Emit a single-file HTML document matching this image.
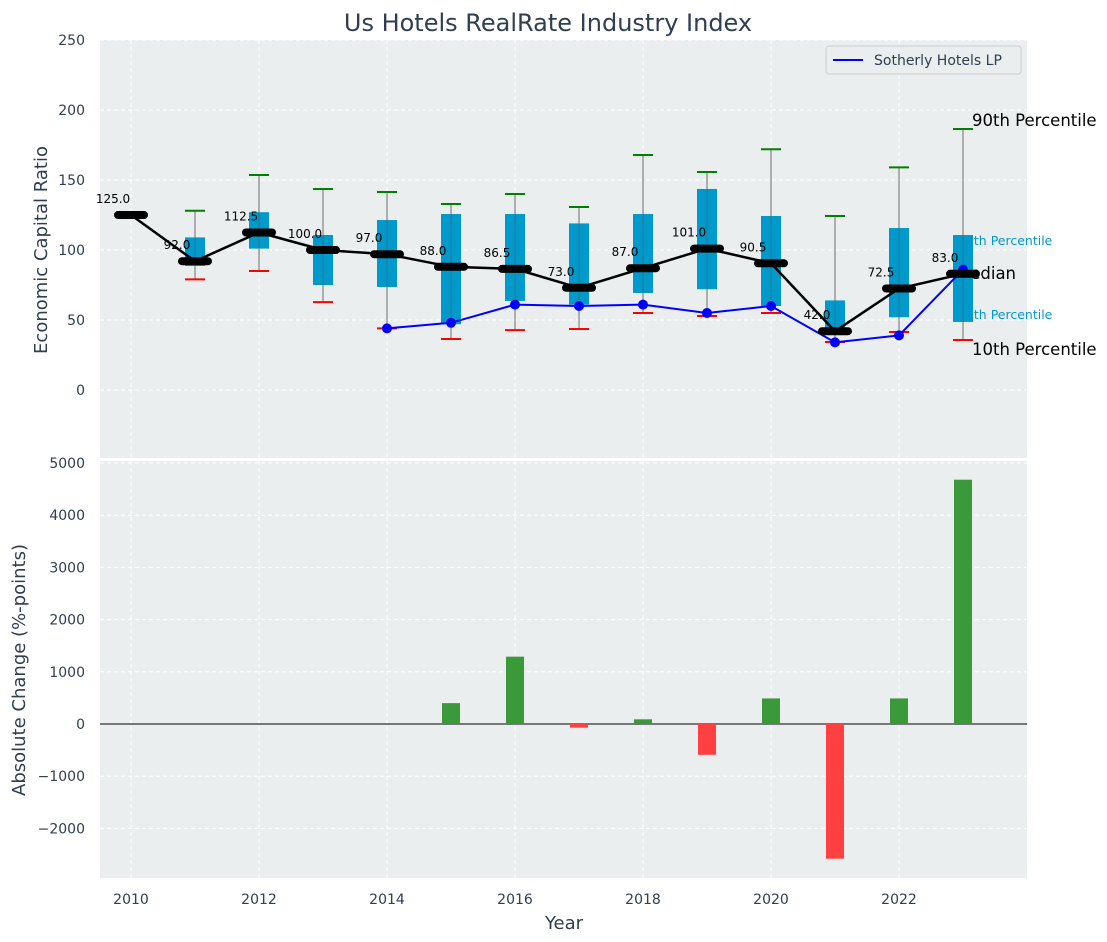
<!DOCTYPE html>
<html><head><meta charset="utf-8"><style>
body{margin:0;background:#fff;}
svg{display:block;font-family:"DejaVu Sans","Liberation Sans",sans-serif;}
</style></head><body>
<svg id="c" width="1107" height="942" xmlns="http://www.w3.org/2000/svg"></svg>
<script>
const years=[2010,2011,2012,2013,2014,2015,2016,2017,2018,2019,2020,2021,2022,2023];
const medians=[125,92,112.5,100,97,88,86.5,73,87,101,90.5,42,72.5,83];
const q3=[null,109,127,110.7,121.4,125.7,125.7,119,125.7,143.6,124.3,64,115.7,110.7];
const q1=[null,88.6,101,75,73.6,47,63.6,61,69.3,72,60,40.7,52,48.6];
const p90=[null,128,153.6,143.6,141.4,132.9,140,130.7,167.9,155.7,172,124.3,159,186.4];
const p10=[null,79,85,62.8,44,36.4,42.8,43.6,55,52.9,55,34.3,41.4,35.7];
const blueYears=[2014,2015,2016,2017,2018,2019,2020,2021,2022,2023];
const blueVals=[44,48,61,60,61,55,60,34,39,86];
const changes=[null,null,null,null,null,400,1290,-70,90,-590,490,-2580,490,4680];
const topTicks=[0,50,100,150,200,250];
const botTicks=[-2000,-1000,0,1000,2000,3000,4000,5000];
const xTicks=[2010,2012,2014,2016,2018,2020,2022];

const NS="http://www.w3.org/2000/svg";
const svg=document.getElementById('c');
function el(tag,attrs,parent){const e=document.createElementNS(NS,tag);for(const k in attrs)e.setAttribute(k,attrs[k]);(parent||svg).appendChild(e);return e;}
const X0=100,X1=1027;
const x=v=>131+(v-2010)*64;
const yT=v=>390-v*1.4;
const yB=v=>724-v*0.0522;
const fmt=v=>(v<0?'\u2212'+Math.abs(v):''+v);

let p=el('rect',{x:X0,y:40,width:X1-X0,height:418,fill:'#eaeeef'});

p=el('rect',{x:X0,y:461,width:X1-X0,height:417,fill:'#eaeeef'});


topTicks.forEach(t=>{
  el('line',{x1:X0,x2:X1,y1:yT(t),y2:yT(t),stroke:'#fff','stroke-dasharray':'4,3','stroke-width':1});
  const tx=el('text',{x:85,y:yT(t)+5,'text-anchor':'end','font-size':14,fill:'#2f3e50'});tx.textContent=t;
  
});
botTicks.forEach(t=>{
  el('line',{x1:X0,x2:X1,y1:yB(t),y2:yB(t),stroke:'#fff','stroke-dasharray':'4,3','stroke-width':1});
  const tx=el('text',{x:85,y:yB(t)+5,'text-anchor':'end','font-size':14,fill:'#2f3e50'});tx.textContent=fmt(t);
  
});
xTicks.forEach(t=>{
  el('line',{x1:x(t),x2:x(t),y1:40,y2:458,stroke:'#fff','stroke-dasharray':'4,3'});
  el('line',{x1:x(t),x2:x(t),y1:461,y2:878,stroke:'#fff','stroke-dasharray':'4,3'});
  const tx=el('text',{x:x(t),y:904,'text-anchor':'middle','font-size':14,fill:'#2f3e50'});tx.textContent=t;
  
});

[['90th Percentile',972,126,16.5,'#000'],['75th Percentile',958,245,12.5,'#0099cc'],['Median',956,279,16.5,'#000'],['25th Percentile',958,319,12.5,'#0099cc'],['10th Percentile',972,355,16.5,'#000']].forEach(a=>{
  const t=el('text',{x:a[1],y:a[2],'font-size':a[3],fill:a[4]});t.textContent=a[0];
  
});

years.forEach((yr,i)=>{
  if(q3[i]==null)return;
  const cx=x(yr);
  const w=el('line',{x1:cx,x2:cx,y1:yT(p90[i]),y2:yT(p10[i]),stroke:'#888','stroke-width':1});
  
  const b=el('rect',{x:cx-10,y:yT(q3[i]),width:20,height:yT(q1[i])-yT(q3[i]),fill:'#0099cc'});
  
  el('line',{x1:cx,x2:cx,y1:yT(p90[i]),y2:yT(p10[i]),stroke:'#555','stroke-width':1,opacity:0.5});
  const g=el('line',{x1:cx-10,x2:cx+10,y1:yT(p90[i]),y2:yT(p90[i]),stroke:'green','stroke-width':2});
  
  const r=el('line',{x1:cx-10,x2:cx+10,y1:yT(p10[i]),y2:yT(p10[i]),stroke:'red','stroke-width':2});
  
});

const bl=el('polyline',{points:blueYears.map((y,i)=>x(y)+','+yT(blueVals[i])).join(' '),fill:'none',stroke:'#0000ff','stroke-width':2});

blueYears.forEach((y,i)=>{const c=el('circle',{cx:x(y),cy:yT(blueVals[i]),r:5,fill:'#0000ff'});
  });

const ml=el('polyline',{points:years.map((y,i)=>x(y)+','+yT(medians[i])).join(' '),fill:'none',stroke:'#000','stroke-width':2.5});

years.forEach((y,i)=>{
  const m=el('line',{x1:x(y)-13,x2:x(y)+13,y1:yT(medians[i]),y2:yT(medians[i]),stroke:'#000','stroke-width':8,'stroke-linecap':'round'});
  
  const t=el('text',{x:x(y)-18,y:yT(medians[i])-12,'text-anchor':'middle','font-size':12,fill:'#000'});t.textContent=medians[i].toFixed(1);
  
});

el('line',{x1:X0,x2:X1,y1:yB(0),y2:yB(0),stroke:'#000','stroke-width':1});
years.forEach((y,i)=>{
  const v=changes[i];if(v==null)return;
  const r=el('rect',{x:x(y)-9,y:Math.min(yB(v),yB(0)),width:18,height:Math.abs(yB(v)-yB(0)),fill:v>=0?'#3a9a3a':'#ff4040'});
  
});

const lg=el('g',{});
el('rect',{x:826,y:46,width:195,height:28,rx:3,fill:'#eaeeef',stroke:'#ccc'},lg);
el('line',{x1:833,x2:863,y1:60,y2:60,stroke:'#0000ff','stroke-width':2},lg);
const lt=el('text',{x:874,y:65,'font-size':14,fill:'#2f3e50'},lg);lt.textContent='Sotherly Hotels LP';

let t=el('text',{x:548,y:31,'text-anchor':'middle','font-size':24,fill:'#2f3e50'});t.textContent='Us Hotels RealRate Industry Index';

t=el('text',{x:564,y:929,'text-anchor':'middle','font-size':18,fill:'#2f3e50'});t.textContent='Year';

t=el('text',{x:0,y:0,'text-anchor':'middle','font-size':18,fill:'#2f3e50',transform:'translate(47,250) rotate(-90)'});t.textContent='Economic Capital Ratio';

t=el('text',{x:0,y:0,'text-anchor':'middle','font-size':18,fill:'#2f3e50',transform:'translate(25,670) rotate(-90)'});t.textContent='Absolute Change (%-points)';

</script>
</body></html>
